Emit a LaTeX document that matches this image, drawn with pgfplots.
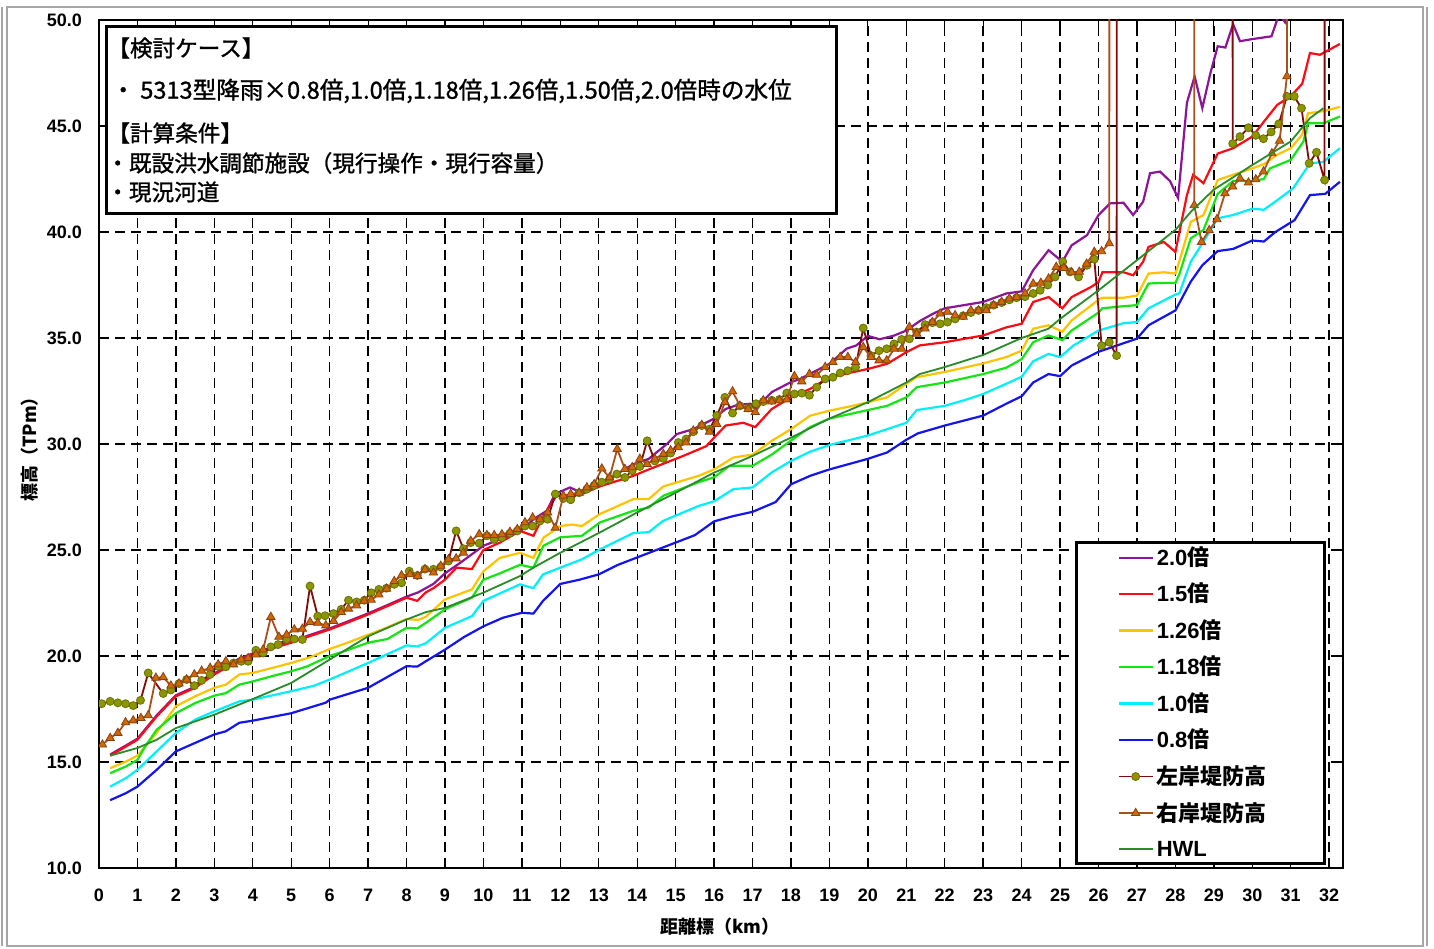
\documentclass[border=0pt]{standalone}
\usepackage{pgfplots}
\pgfplotsset{compat=1.18}
\usepackage{fontspec}
\setmainfont{Liberation Sans}
\newfontfamily\cjk{Noto Sans CJK JP}
\newfontfamily\cjkm{Noto Sans CJK JP}[FakeBold=1.2]
\definecolor{cPur}{RGB}{140,20,150}
\definecolor{cRed}{RGB}{255,10,20}
\definecolor{cGold}{RGB}{255,195,0}
\definecolor{cGrn}{RGB}{20,230,20}
\definecolor{cCyan}{RGB}{0,240,250}
\definecolor{cBlue}{RGB}{20,20,240}
\definecolor{cHWL}{RGB}{40,140,40}
\definecolor{cLL}{RGB}{130,10,10}
\definecolor{cLLm}{RGB}{140,150,0}
\definecolor{cRL}{RGB}{170,80,25}
\definecolor{cRLm}{RGB}{210,105,0}
\newcommand{\lt}[1]{\makebox[62pt][l]{\rule[-2.5pt]{0pt}{11.5pt}#1}}
\begin{document}
\begin{tikzpicture}
\path[use as bounding box] (0pt,0pt) rectangle (717pt,474pt);
\draw[gray!70, line width=0.8pt] (3.5pt,1pt) rectangle (711.5pt,470.5pt);
\draw[gray!70, line width=0.8pt] (1pt,1pt) -- (1pt,470.5pt);
\draw[gray!70, line width=0.8pt] (713.5pt,1pt) -- (713.5pt,470.5pt);
\begin{axis}[
 scale only axis, width=622pt, height=424pt, at={(49.5pt,40pt)}, anchor=south west,
 xmin=0, xmax=32.36, ymin=10, ymax=50,
 xtick={0,1,...,32}, ytick={10,15,...,50},
 grid=major, major grid style={black, line width=0.7pt, dash pattern=on 5pt off 3pt},
 axis line style={black, line width=0.8pt},
 tick style={black, line width=0.6pt}, major tick length=3pt, tick align=inside,
 /pgf/number format/assume math mode=true,
 xticklabel style={font=\bfseries\fontsize{9}{10}\selectfont, yshift=-7pt},
 yticklabel style={font=\bfseries\fontsize{9}{10}\selectfont, xshift=-5pt, /pgf/number format/.cd, fixed, fixed zerofill, precision=1},
 clip marker paths=true,
 legend style={at={(0.7846,0.3856)}, anchor=north west, draw=black, line width=1.5pt, fill=white,
   inner xsep=20.5pt, inner ysep=0.6pt, row sep=4.35pt, font=\bfseries\fontsize{11}{12}\selectfont,
   nodes={inner sep=1.5pt}},
 legend cell align=left,
 legend image code/.code={\draw[mark repeat=2, mark phase=2, #1] plot coordinates {(0pt,0pt)(8.5pt,0pt)(17pt,0pt)};},
]
% 2.0
\addplot[cPur, line width=1.1pt] coordinates {
(0.29,15.35)(0.7,15.78)(1.0,16.1)(1.5,17.2)(2.0,18.15)(2.5,18.55)(3.0,19.18)(3.3,19.49)(3.65,19.88)(4.0,20.12)(4.5,20.4)(5.0,20.68)(5.5,21.0)(6.0,21.3)(6.5,21.65)(7.0,22.01)(7.5,22.4)(8.0,22.8)(8.3,23.0)(8.7,23.4)(9.0,23.9)(9.4,24.4)(9.7,24.8)(10.0,25.2)(10.5,25.55)(11.0,25.95)(11.3,26.45)(11.65,26.85)(11.86,27.64)(12.25,27.95)(12.56,27.7)(13.03,28.1)(13.47,28.58)(13.9,29.05)(14.3,29.3)(14.77,30.0)(15.03,30.47)(15.46,30.7)(15.98,31.18)(16.3,31.65)(16.6,31.84)(16.95,31.9)(17.07,31.65)(17.5,32.45)(18.0,32.92)(18.24,33.07)(19.0,33.78)(19.45,34.5)(19.7,34.65)(20.0,35.1)(20.3,34.94)(20.66,35.1)(21.0,35.35)(21.35,35.8)(21.7,36.15)(22.0,36.4)(23.0,36.7)(23.6,37.1)(24.0,37.2)(24.3,38.2)(24.7,39.14)(25.06,38.6)(25.3,39.37)(25.7,39.85)(26.0,40.8)(26.3,41.35)(26.65,41.38)(26.9,40.8)(27.16,41.43)(27.34,42.77)(27.6,42.85)(27.86,42.4)(28.07,41.6)(28.3,46.1)(28.5,47.34)(28.7,45.84)(28.9,47.42)(29.1,48.76)(29.3,48.7)(29.5,49.8)(29.68,49.0)(30.0,49.1)(30.5,49.23)(30.7,50.3)(30.85,49.9)(31.0,51.0)};
\addlegendentry{\lt{2.0{\cjk 倍}}}
% 1.5
\addplot[cRed, line width=1.1pt] coordinates {
(0.29,15.3)(0.7,15.73)(1.0,16.05)(1.5,17.15)(2.0,18.1)(2.5,18.5)(3.0,19.13)(3.3,19.44)(3.65,19.83)(4.0,20.07)(4.5,20.35)(5.0,20.63)(5.5,20.95)(6.0,21.25)(6.5,21.6)(7.0,21.96)(7.5,22.35)(8.0,22.75)(8.28,22.6)(8.5,23.0)(8.7,23.2)(9.0,23.6)(9.3,24.17)(9.7,24.1)(10.0,25.0)(10.43,25.35)(10.95,25.9)(11.3,25.67)(11.56,26.6)(11.9,27.56)(12.56,27.64)(13.03,28.0)(13.9,28.5)(14.3,28.8)(15.2,29.44)(15.8,29.9)(16.0,30.3)(16.3,30.87)(16.76,31.0)(17.07,30.8)(17.5,31.65)(18.0,32.2)(18.5,32.6)(19.0,33.15)(20.0,33.54)(20.5,33.78)(21.0,34.33)(21.35,34.65)(22.0,34.8)(23.0,35.12)(23.6,35.5)(24.0,35.67)(24.3,36.7)(24.7,36.93)(25.06,36.4)(25.3,36.93)(25.8,37.4)(26.0,37.64)(26.1,38.1)(26.65,38.1)(26.9,37.96)(27.16,38.6)(27.3,39.3)(27.7,39.53)(28.0,39.06)(28.3,41.74)(28.46,42.7)(28.73,42.3)(29.1,43.7)(29.5,43.95)(30.0,44.5)(30.3,45.2)(30.65,46.0)(31.0,46.4)(31.3,47.0)(31.5,48.44)(31.76,48.36)(32.28,48.87)};
\addlegendentry{\lt{1.5{\cjk 倍}}}
% 1.26
\addplot[cGold, line width=1.1pt] coordinates {
(0.29,14.71)(0.7,15.02)(1.0,15.3)(1.5,16.37)(2.0,17.63)(2.5,18.1)(3.0,18.5)(3.3,18.65)(3.65,19.13)(4.0,19.2)(5.0,19.67)(5.5,19.95)(6.0,20.33)(6.5,20.65)(7.0,21.0)(7.5,21.35)(8.0,21.75)(8.3,21.7)(8.5,21.85)(9.0,22.67)(9.7,23.14)(10.0,24.0)(10.43,24.63)(10.95,24.87)(11.3,24.63)(11.56,25.58)(12.0,26.13)(12.3,26.2)(12.56,26.13)(13.03,26.7)(13.9,27.4)(14.3,27.4)(14.68,28.0)(15.6,28.5)(16.0,28.8)(16.5,29.36)(17.0,29.5)(17.5,30.15)(18.0,30.7)(18.5,31.34)(19.0,31.57)(19.6,31.8)(20.0,31.97)(20.5,32.2)(21.0,32.84)(21.27,33.15)(22.0,33.4)(23.0,33.8)(23.6,34.1)(24.0,34.4)(24.3,35.44)(24.7,35.6)(25.06,35.3)(25.3,35.83)(26.0,36.8)(26.1,36.9)(26.65,36.9)(27.0,37.0)(27.3,38.04)(27.7,38.1)(28.0,38.04)(28.1,38.6)(28.4,40.48)(28.73,40.8)(29.1,42.45)(29.5,42.7)(30.0,43.0)(30.3,43.2)(30.65,43.65)(31.0,43.95)(31.3,44.6)(31.45,45.6)(31.85,45.7)(32.28,45.9)};
\addlegendentry{\lt{1.26{\cjk 倍}}}
% 1.18
\addplot[cGrn, line width=1.1pt] coordinates {
(0.29,14.47)(0.7,14.79)(1.0,15.1)(1.2,15.73)(1.5,16.52)(2.0,17.3)(2.5,17.78)(3.0,18.13)(3.3,18.25)(3.65,18.65)(4.0,18.8)(4.5,19.05)(5.0,19.28)(5.4,19.5)(6.0,20.0)(6.5,20.3)(7.0,20.63)(7.5,20.8)(8.0,21.33)(8.28,21.3)(8.5,21.56)(9.0,22.2)(9.7,22.75)(10.0,23.6)(10.43,23.9)(10.95,24.3)(11.3,24.17)(11.56,25.2)(12.0,25.6)(12.56,25.67)(13.03,26.3)(13.9,26.85)(14.3,27.0)(14.68,27.56)(15.6,28.2)(16.0,28.43)(16.4,28.97)(17.0,28.97)(17.5,29.5)(18.0,30.16)(18.5,30.8)(19.0,31.2)(20.0,31.6)(20.5,31.8)(21.0,32.2)(21.27,32.68)(22.0,32.9)(23.0,33.3)(23.6,33.6)(24.0,34.0)(24.3,34.8)(24.7,35.12)(25.06,34.9)(25.3,35.35)(26.0,36.2)(26.1,36.4)(26.65,36.5)(27.0,36.55)(27.3,37.57)(27.7,37.6)(28.0,37.6)(28.1,38.0)(28.4,39.7)(28.73,40.1)(29.1,41.8)(29.5,42.4)(30.0,42.4)(30.3,42.5)(30.46,43.0)(31.0,43.4)(31.33,44.27)(31.45,45.13)(31.85,45.13)(32.28,45.45)};
\addlegendentry{\lt{1.18{\cjk 倍}}}
% 1.0
\addplot[cCyan, line width=1.1pt] coordinates {
(0.29,13.84)(0.7,14.24)(1.0,14.63)(1.5,15.5)(2.0,16.37)(2.5,17.0)(3.0,17.39)(3.65,17.86)(4.0,17.94)(5.0,18.34)(5.6,18.6)(6.0,18.89)(7.0,19.67)(8.0,20.5)(8.28,20.45)(8.5,20.6)(9.0,21.33)(9.7,21.88)(10.0,22.6)(10.95,23.38)(11.3,23.2)(11.55,23.85)(12.56,24.56)(13.03,25.03)(13.9,25.8)(14.3,25.84)(14.67,26.37)(15.6,27.08)(16.0,27.3)(16.5,27.87)(17.0,27.95)(17.5,28.66)(18.0,29.2)(18.5,29.64)(19.0,29.95)(20.0,30.4)(20.5,30.7)(21.0,31.0)(21.27,31.6)(22.0,31.8)(22.57,32.1)(23.0,32.36)(23.6,32.84)(24.0,33.17)(24.3,33.9)(24.7,34.25)(25.0,34.1)(25.35,34.65)(26.0,35.35)(26.65,35.7)(27.0,35.75)(27.3,36.4)(28.0,37.05)(28.1,37.1)(28.4,38.6)(28.73,39.55)(29.1,40.65)(29.5,40.8)(30.0,41.1)(30.3,41.05)(30.65,41.5)(31.06,42.06)(31.5,43.24)(31.84,43.3)(32.28,43.95)};
\addlegendentry{\lt{1.0{\cjk 倍}}}
% 0.8
\addplot[cBlue, line width=1.1pt] coordinates {
(0.29,13.2)(0.7,13.53)(1.0,13.84)(1.5,14.63)(2.0,15.5)(2.5,15.9)(3.0,16.3)(3.3,16.45)(3.65,16.85)(4.0,16.95)(5.0,17.3)(5.9,17.8)(6.0,17.94)(7.0,18.5)(8.0,19.52)(8.28,19.5)(8.5,19.75)(9.0,20.3)(9.5,20.9)(10.0,21.4)(10.5,21.8)(11.0,22.04)(11.3,22.0)(11.55,22.6)(12.0,23.4)(12.5,23.6)(13.0,23.85)(13.5,24.3)(14.0,24.65)(14.5,25.0)(15.0,25.35)(15.5,25.7)(16.0,26.35)(16.5,26.6)(17.0,26.8)(17.6,27.26)(18.0,28.1)(18.5,28.5)(19.0,28.8)(20.0,29.3)(20.5,29.6)(21.0,30.2)(21.3,30.5)(22.0,30.87)(23.0,31.34)(23.6,31.9)(24.0,32.25)(24.3,32.9)(24.7,33.3)(25.0,33.2)(25.3,33.7)(26.0,34.35)(27.0,34.97)(27.3,35.6)(28.0,36.3)(28.4,37.66)(28.7,38.43)(29.1,39.1)(29.5,39.2)(30.0,39.6)(30.3,39.55)(30.6,40.0)(31.1,40.56)(31.5,41.74)(31.9,41.8)(32.28,42.37)};
\addlegendentry{\lt{0.8{\cjk 倍}}}
% left levee
\addplot[cLL, line width=0.9pt, mark=*, mark size=2pt, mark options={fill=cLLm, draw=cLLm!75!black, line width=0.4pt}] coordinates {
(0.07,17.75)(0.29,17.86)(0.49,17.79)(0.69,17.75)(0.89,17.66)(1.08,17.91)(1.28,19.2)(1.67,18.23)(1.87,18.4)(2.08,18.7)(2.28,18.89)(2.48,18.6)(2.67,18.85)(2.89,19.13)(3.1,19.52)(3.3,19.49)(3.5,19.67)(3.7,19.75)(3.88,19.75)(4.08,20.27)(4.27,20.14)(4.47,20.43)(4.66,20.54)(4.88,20.78)(5.08,20.8)(5.29,20.78)(5.49,23.3)(5.69,21.88)(5.88,21.9)(6.1,22.0)(6.3,22.2)(6.49,22.63)(6.7,22.55)(6.9,22.63)(7.08,22.98)(7.28,23.14)(7.48,23.2)(7.68,23.38)(7.87,23.45)(8.07,24.0)(8.28,23.8)(8.48,24.1)(8.7,24.09)(8.89,24.2)(9.09,24.48)(9.29,25.9)(9.48,25.06)(9.67,25.35)(9.89,25.32)(10.09,25.67)(10.28,25.5)(10.48,25.58)(10.69,25.79)(10.88,25.9)(11.08,26.13)(11.28,26.13)(11.47,26.37)(11.67,26.45)(11.87,27.64)(12.08,27.43)(12.27,27.37)(12.49,27.7)(12.69,27.87)(12.88,28.05)(13.08,28.2)(13.28,28.34)(13.47,28.58)(13.68,28.42)(13.87,28.74)(14.07,28.94)(14.26,30.15)(14.46,29.2)(14.68,29.32)(14.87,29.57)(15.07,30.07)(15.27,30.23)(15.46,30.58)(15.68,30.87)(15.88,30.7)(16.07,31.34)(16.28,32.2)(16.48,31.46)(16.67,31.8)(16.89,31.7)(17.09,31.9)(17.28,32.0)(17.5,32.06)(17.7,32.1)(17.89,32.4)(18.09,32.36)(18.28,32.4)(18.48,32.3)(18.67,32.68)(18.89,33.07)(19.09,33.15)(19.28,33.35)(19.48,33.46)(19.68,33.62)(19.88,35.47)(20.08,34.17)(20.29,34.4)(20.49,34.49)(20.68,34.72)(20.88,34.93)(21.08,34.96)(21.27,35.28)(21.49,35.63)(21.68,35.72)(21.88,35.67)(22.07,35.75)(22.27,35.9)(22.48,36.05)(22.68,36.2)(22.88,36.3)(23.08,36.43)(23.27,36.55)(23.48,36.67)(23.68,36.8)(23.87,36.9)(24.09,36.95)(24.3,37.1)(24.48,37.25)(24.68,37.5)(24.87,37.88)(25.07,38.6)(25.26,38.12)(25.48,37.88)(25.7,38.43)(25.89,38.72)(26.08,34.64)(26.28,34.8)(26.47,34.17)(26.48,80)(29.48,80)(29.49,44.17)(29.68,44.5)(29.9,44.92)(30.09,44.56)(30.29,44.4)(30.49,44.72)(30.69,45.1)(30.9,46.4)(31.09,46.4)(31.28,45.84)(31.48,43.24)(31.67,43.76)(31.88,42.45)(31.89,80)};
\addlegendentry{\lt{\cjk 左岸堤防高}}
% right levee
\addplot[cRL, line width=0.9pt, mark=triangle*, mark size=2.4pt, mark options={fill=cRLm, draw=cRL!80!black, line width=0.4pt}] coordinates {
(0.09,15.82)(0.29,16.13)(0.49,16.37)(0.69,16.87)(0.89,16.96)(1.09,17.07)(1.28,17.2)(1.48,18.97)(1.67,19.0)(1.87,18.6)(2.08,18.7)(2.28,18.89)(2.48,19.13)(2.67,19.3)(2.89,19.44)(3.1,19.6)(3.3,19.75)(3.5,19.6)(3.7,19.83)(3.88,19.9)(4.08,20.07)(4.27,20.3)(4.47,21.84)(4.68,20.9)(4.88,21.0)(5.08,21.25)(5.29,21.28)(5.49,21.6)(5.69,21.56)(5.9,21.44)(6.1,21.65)(6.3,22.07)(6.49,22.23)(6.7,22.38)(6.9,22.6)(7.08,22.65)(7.28,22.9)(7.48,23.17)(7.68,23.53)(7.87,23.8)(8.09,23.85)(8.29,23.77)(8.48,24.09)(8.7,23.93)(8.89,24.25)(9.09,24.56)(9.29,24.6)(9.48,24.87)(9.67,25.43)(9.89,25.74)(10.09,25.7)(10.28,25.7)(10.48,25.74)(10.69,25.85)(10.88,25.98)(11.08,26.3)(11.28,26.53)(11.47,26.45)(11.67,26.77)(11.87,26.05)(12.08,27.56)(12.27,27.64)(12.49,27.7)(12.69,27.95)(12.88,28.1)(13.08,28.84)(13.28,28.42)(13.48,29.76)(13.68,28.82)(13.87,28.9)(14.07,29.3)(14.26,29.05)(14.46,29.3)(14.68,29.53)(14.87,29.7)(15.07,29.84)(15.27,30.07)(15.46,30.63)(15.68,30.9)(15.88,30.58)(16.07,30.94)(16.28,31.97)(16.48,32.48)(16.67,31.8)(16.89,31.65)(17.07,31.5)(17.28,32.06)(17.5,32.0)(17.7,32.06)(17.89,32.1)(18.09,33.2)(18.28,32.95)(18.48,33.3)(18.67,33.26)(18.89,33.63)(19.09,33.86)(19.28,34.1)(19.48,34.1)(19.68,33.86)(19.88,34.57)(20.08,34.1)(20.29,33.94)(20.49,33.94)(20.68,34.49)(20.88,34.49)(21.08,35.52)(21.27,35.2)(21.49,35.44)(21.68,35.75)(21.88,36.15)(22.07,36.23)(22.27,36.07)(22.48,36.0)(22.68,36.3)(22.88,36.3)(23.08,36.3)(23.27,36.54)(23.48,36.7)(23.68,36.86)(23.87,36.93)(24.09,37.1)(24.3,37.56)(24.5,37.6)(24.7,37.8)(24.9,38.35)(25.1,38.3)(25.3,38.1)(25.5,38.12)(25.69,38.5)(25.89,39.06)(26.08,39.09)(26.28,39.46)(26.29,80)(28.48,80)(28.49,41.26)(28.68,39.53)(28.88,40.08)(29.08,40.6)(29.29,41.82)(29.49,42.14)(29.68,42.53)(29.9,42.33)(30.09,42.48)(30.29,42.85)(30.51,43.71)(30.71,44.3)(30.9,47.34)(30.91,80)};
\addlegendentry{\lt{\cjk 右岸堤防高}}
% HWL
\addplot[cHWL, line width=0.9pt] coordinates {
(0.29,15.3)(1.0,15.66)(1.5,16.05)(2.0,16.6)(3.0,17.23)(4.0,17.97)(5.0,18.73)(6.0,19.83)(7.0,20.93)(8.0,21.72)(8.5,22.07)(9.0,22.27)(10.0,22.99)(10.95,23.77)(11.3,24.17)(12.0,24.87)(13.0,25.8)(14.0,26.77)(15.0,27.7)(16.0,28.65)(17.0,29.44)(18.0,30.3)(19.0,31.2)(20.0,31.97)(21.0,32.9)(21.35,33.3)(22.0,33.63)(23.0,34.2)(24.0,35.0)(24.7,35.44)(25.0,35.9)(26.0,37.25)(27.0,38.67)(28.0,40.1)(28.4,40.95)(29.0,42.0)(30.0,43.16)(31.0,44.27)(31.5,45.37)(31.85,45.84)};
\addlegendentry{\lt{HWL}}
\end{axis}
% title box
\node[draw=black, line width=1.5pt, fill=white, minimum width=365pt, minimum height=93.5pt, anchor=north west, inner sep=0pt] at (52.5pt,461.5pt) {};
\node[anchor=west, inner sep=0pt, font=\cjkm\fontsize{11.3}{13}\selectfont] at (53.5pt,450pt) {【検討ケース】};
\node[anchor=west, inner sep=0pt, font=\cjkm\fontsize{11.8}{13}\selectfont] at (55.5pt,428.5pt) {・ 5313型降雨×0.8倍,1.0倍,1.18倍,1.26倍,1.50倍,2.0倍時の水位};
\node[anchor=west, inner sep=0pt, font=\cjkm\fontsize{11.3}{13}\selectfont] at (53.5pt,407.5pt) {【計算条件】};
\node[anchor=west, inner sep=0pt, font=\cjkm\fontsize{11.3}{13}\selectfont] at (53pt,392.5pt) {・既設洪水調節施設（現行操作・現行容量）};
\node[anchor=west, inner sep=0pt, font=\cjkm\fontsize{11.3}{13}\selectfont] at (53pt,378pt) {・現況河道};
% axis labels
\node[rotate=90, font=\cjk\bfseries\fontsize{9}{10}\selectfont] at (15pt,251.5pt) {標高（TPm）};
\node[font=\cjk\bfseries\fontsize{9}{10}\selectfont] at (360pt,10.5pt) {距離標（km）};
\end{tikzpicture}
\end{document}
